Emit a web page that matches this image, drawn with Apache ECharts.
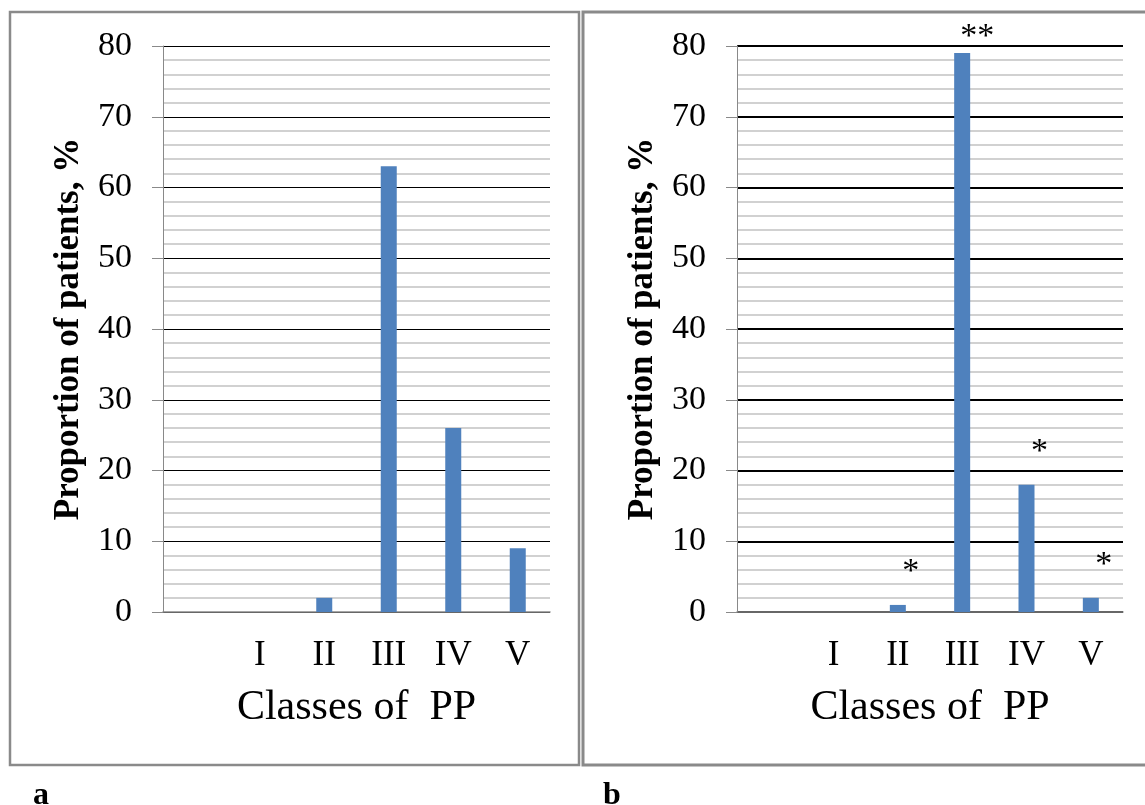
<!DOCTYPE html>
<html>
<head>
<meta charset="utf-8">
<script src="https://cdn.jsdelivr.net/npm/echarts@6/dist/echarts.min.js"></script>
<style>
  html, body { margin: 0; padding: 0; background: #fff; }
  #chart { width: 1145px; height: 805px; }
</style>
</head>
<body>
<div id="chart"></div>
<script>
// classes of PP (first slot is an empty category, as in the original sheet)
var classes = ['', 'I', 'II', 'III', 'IV', 'V'];
var valuesA = [0, 0, 2, 63, 26, 9];
var valuesB = [0, 0, 1, 79, 18, 2];
var marksB = ['', '', '*', '**', '*', '*'];
var yTicks = [0, 80, 10];   // min, max, step

var serif = 'Liberation Serif';
var barColor = '#4F81BD';

function makeY(idx, majorWidth) {
    return {
        type: 'value',
        gridIndex: idx,
        min: yTicks[0],
        max: yTicks[1],
        interval: yTicks[2],
        name: 'Proportion of patients, %',
        nameLocation: 'middle',
        nameGap: 77,
        nameTextStyle: { fontFamily: serif, fontSize: 35, fontWeight: 'bold', color: '#000' },
        axisLine: { show: true, lineStyle: { color: '#898989', width: 1 } },
        axisTick: { show: true, length: 11, lineStyle: { color: '#898989' } },
        axisLabel: { margin: 31, fontFamily: serif, fontSize: 34, color: '#000' },
        splitLine: { show: true, lineStyle: { color: '#000', width: majorWidth } },
        minorTick: { show: false, splitNumber: 5 },
        minorSplitLine: { show: true, lineStyle: { color: '#c2c2c2', width: 1.5 } }
    };
}

function makeX(idx) {
    return {
        type: 'category',
        gridIndex: idx,
        data: classes,
        name: 'Classes of  PP',
        nameLocation: 'middle',
        nameGap: 75,
        nameTextStyle: { fontFamily: serif, fontSize: 42, color: '#000' },
        axisLine: { show: true, lineStyle: { color: '#898989', width: 1.5 } },
        axisTick: { show: false },
        axisLabel: { margin: 26, fontFamily: serif, fontSize: 35, color: '#000' },
        splitLine: { show: false }
    };
}

// star markers sit a little right of each bar, as in the source figure
var dataB = valuesB.map(function (v, i) {
    var off = marksB[i] === '**' ? [15, 6] : [13, -11];
    return { value: v, label: { offset: off } };
});

var chart = echarts.init(document.getElementById('chart'));
chart.setOption({
    animation: false,
    backgroundColor: '#fff',
    graphic: [
        { type: 'rect', shape: { x: 10, y: 12, width: 569, height: 753 },
          style: { fill: 'none', stroke: '#8a8a8a', lineWidth: 2.5 }, z: 100 },
        { type: 'rect', shape: { x: 583, y: 12, width: 600, height: 753 },
          style: { fill: 'none', stroke: '#8a8a8a', lineWidth: 3 }, z: 100 },
        { type: 'text', left: 33, top: 780,
          style: { text: 'a', font: 'bold 32px "Liberation Serif"', fill: '#000' } },
        { type: 'text', left: 603, top: 780,
          style: { text: 'b', font: 'bold 32px "Liberation Serif"', fill: '#000' } }
    ],
    grid: [
        { left: 163, top: 46, width: 387, height: 566 },
        { left: 737, top: 46, width: 386, height: 566 }
    ],
    xAxis: [makeX(0), makeX(1)],
    yAxis: [makeY(0, 1), makeY(1, 2)],
    series: [
        {
            type: 'bar',
            xAxisIndex: 0, yAxisIndex: 0,
            data: valuesA,
            barWidth: 16,
            itemStyle: { color: barColor }
        },
        {
            type: 'bar',
            xAxisIndex: 1, yAxisIndex: 1,
            data: dataB,
            barWidth: 16,
            itemStyle: { color: barColor },
            label: {
                show: true,
                position: 'top',
                fontFamily: serif,
                fontSize: 34,
                color: '#000',
                formatter: function (p) { return marksB[p.dataIndex]; }
            }
        }
    ]
});
</script>
</body>
</html>
